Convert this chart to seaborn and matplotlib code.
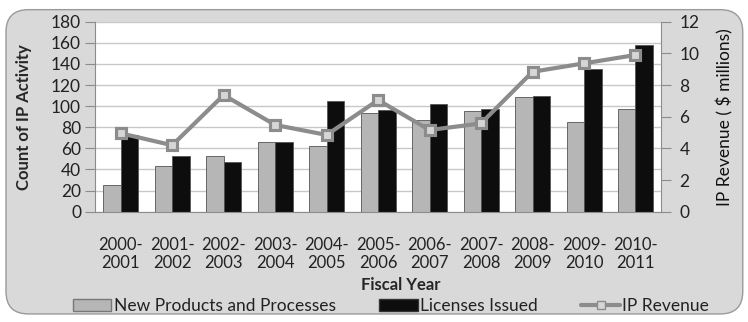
import matplotlib
matplotlib.use("Agg")
import matplotlib.pyplot as plt
import seaborn as sns
import numpy as np
import pandas as pd
from matplotlib.patches import FancyBboxPatch, Patch
from matplotlib.lines import Line2D

years = ["2000-\n2001", "2001-\n2002", "2002-\n2003", "2003-\n2004", "2004-\n2005",
         "2005-\n2006", "2006-\n2007", "2007-\n2008", "2008-\n2009", "2009-\n2010",
         "2010-\n2011"]
new_products = [25, 43, 53, 66, 62, 94, 87, 95, 109, 85, 97]
licenses = [73, 53, 47, 66, 105, 96, 102, 97, 110, 135, 158]
ip_revenue = [4.95, 4.2, 7.37, 5.48, 4.85, 7.05, 5.16, 5.58, 8.84, 9.37, 9.9]

series_names = ["New Products and Processes", "Licenses Issued"]

sns.set_style("white")
plt.rcParams['font.family'] = ['Lato', 'DejaVu Sans']

df = pd.DataFrame({
    "year": years * 2,
    "count": new_products + licenses,
    "series": [series_names[0]] * len(years) + [series_names[1]] * len(years),
})

fig = plt.figure(figsize=(7.48, 3.22), dpi=100)
fig.patch.set_facecolor("white")
bg = FancyBboxPatch((0.008, 0.025), 0.985, 0.945, transform=fig.transFigure,
                    boxstyle="round,pad=0,rounding_size=0.03",
                    facecolor="#d9d9d9", edgecolor="#9a9a9a", lw=1.0,
                    mutation_aspect=748 / 322, zorder=-10)
fig.patches.append(bg)

ax = fig.add_axes([0.127, 0.3425, 0.757, 0.590])
ax.set_facecolor("white")

palette = {series_names[0]: "#b6b6b6", series_names[1]: "#0d0d0d"}
sns.barplot(data=df, x="year", y="count", hue="series", palette=palette,
            width=0.68, ax=ax, legend=False, saturation=1,
            edgecolor="#555555", linewidth=0.6, zorder=2)

ax.set_ylim(0, 180)
ax.set_yticks(range(0, 181, 20))
ax.yaxis.grid(True, color="#c8c8c8", lw=1.0, zorder=0)
ax.set_axisbelow(True)
ax.set_xlim(-0.5, len(years) - 0.5)
for s in ["top", "right"]:
    ax.spines[s].set_visible(False)
for s in ["left", "bottom"]:
    ax.spines[s].set_color("#8c8c8c")
ax.tick_params(axis="y", direction="out", length=7, color="#8c8c8c",
               labelsize=12.5, labelcolor="#222222", pad=3)
ax.tick_params(axis="x", which="major", length=0, labelsize=12,
               labelcolor="#222222", pad=18)
ax.set_xticks(np.arange(-0.5, len(years)), minor=True)
ax.tick_params(axis="x", which="minor", direction="out", length=6, color="#8c8c8c")
ax.set_xlabel("Fiscal Year", fontsize=12, fontweight="bold")
ax.xaxis.set_label_coords(0.54, -0.345)
ax.set_ylabel("Count of IP Activity", fontsize=12, fontweight="bold")
ax.yaxis.set_label_coords(-0.112, 0.5)

ax2 = ax.twinx()
sns.pointplot(x=years, y=ip_revenue, ax=ax2, color="#8c8c8c", markers="s",
              linewidth=3, markersize=7, markeredgecolor="#8c8c8c",
              markerfacecolor="#d6d6d6", zorder=5)
ax2.set_ylim(0, 12)
ax2.set_yticks(range(0, 13, 2))
ax2.set_xlim(-0.5, len(years) - 0.5)
for s in ["top", "left", "bottom"]:
    ax2.spines[s].set_visible(False)
ax2.spines["right"].set_color("#8c8c8c")
ax2.tick_params(axis="y", direction="out", length=7, color="#8c8c8c",
                labelsize=12.5, labelcolor="#222222", pad=6)
ax2.set_ylabel("IP Revenue ( $ millions)", fontsize=12.5, color="#111111")
ax2.yaxis.set_label_coords(1.097, 0.5)

handles = [
    Patch(facecolor="#b6b6b6", edgecolor="#777777"),
    Patch(facecolor="#0d0d0d", edgecolor="#333333"),
    Line2D([0], [0], color="#8c8c8c", lw=3, marker="s", markersize=6,
           markerfacecolor="#d6d6d6", markeredgecolor="#8c8c8c"),
]
fig.legend(handles, ["New Products and Processes", "Licenses Issued", "IP Revenue"],
           loc="center", bbox_to_anchor=(0.523, 0.05), ncol=3, frameon=False,
           fontsize=12.5, handlelength=2.2, handletextpad=0.15, columnspacing=2.5,
           labelcolor="#222222")

fig.savefig("out.png", dpi=100)
